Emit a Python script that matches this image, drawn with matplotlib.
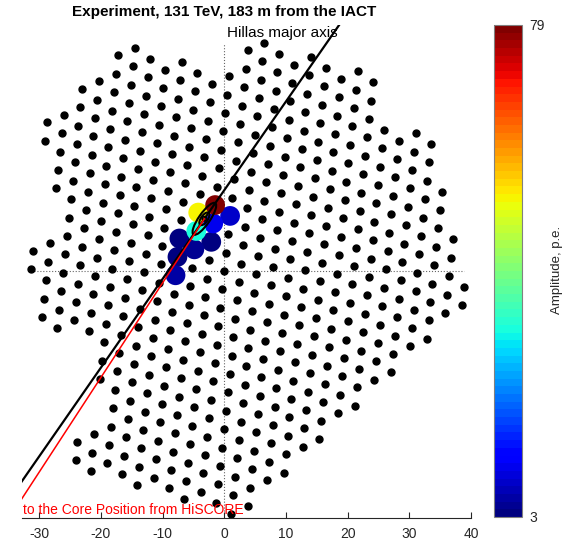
import numpy as np
import matplotlib
matplotlib.use('Agg')
import matplotlib.pyplot as plt
from matplotlib.patches import Circle, Ellipse
from matplotlib.path import Path
from matplotlib.colors import Normalize
from matplotlib.cm import ScalarMappable

plt.rcParams['font.family'] = ['Liberation Sans', 'DejaVu Sans']
plt.rcParams['axes.unicode_minus'] = False

# camera outline (boundary pixels, clockwise)
outline_x = [-14.47, -12.04, -6.9, -4.47, -2.04, 0.65, 3.79, 6.6, 8.9, 14.05, 16.4, 21.56,
             24.05, 23.7, 23.45, 25.9, 31.0, 33.45, 33.2, 32.9, 35.3, 34.96, 34.7, 37.07,
             36.8, 36.53, 38.96, 38.6, 35.8, 33.1, 32.85, 30.1, 27.34, 27.0, 24.3, 21.56,
             21.2, 18.5, 15.7, 15.46, 12.64, 9.72, 6.97, 4.2, 3.9, 1.2, -1.23, -3.78,
             -6.48, -8.96, -11.3, -14.0, -16.5, -19.06, -21.65, -24.0, -23.7, -20.95,
             -18.5, -18.25, -17.7, -20.0, -19.7, -19.45, -21.9, -24.5, -27.0, -29.5,
             -29.2, -28.95, -31.2, -30.96, -28.25, -25.5, -25.2, -24.9, -27.3, -27.0,
             -26.6, -29.06, -28.8, -26.1, -23.4, -23.0, -20.26, -17.18]
outline_y = [36.14, 34.4, 33.9, 32.2, 30.3, 31.65, 35.75, 36.95, 35.2, 34.7, 32.9, 32.35,
             30.6, 27.65, 24.6, 22.9, 22.3, 20.6, 17.6, 14.6, 12.8, 9.8, 6.86, 5.07,
             2.1, -0.78, -2.54, -5.5, -6.76, -8.05, -11.0, -12.3, -13.4, -16.5, -17.6, -18.9,
             -21.8, -23.1, -24.4, -27.3, -28.5, -32.6, -33.9, -35.2, -38.2, -39.4, -37.6, -35.9,
             -37.1, -35.3, -33.6, -34.7, -33.0, -31.2, -32.5, -30.7, -27.7, -26.5,
             -25.3, -22.4, -19.35, -17.5, -14.5, -11.6, -9.8, -8.05, -9.3, -7.6,
             -4.5, -1.5, 0.2, 3.2, 4.4, 5.7, 8.6, 11.6, 13.3, 16.4,
             19.4, 21.1, 24.1, 25.3, 26.6, 29.5, 30.73, 34.9]

# triggered pixels (hex lattice indices) and amplitudes, p.e.
hit_i = [-1, -2, 0, -1, -2, -3, -1, -2, -3, -3]
hit_j = [4, 4, 3, 3, 3, 3, 2, 2, 2, 1]
hit_amp = [79, 52, 8, 11, 32, 4, 3, 5, 4, 6]
amp_min, amp_max = 3, 79

# Hillas ellipse / axis and direction to the core
hillas_x, hillas_y = -3.23, 8.48
hillas_angle = 55.2
hillas_length, hillas_width = 3.1, 0.9
core_angle = 56.9

pitch = 3.0
rot = np.deg2rad(24.0)
u = pitch * np.array([np.cos(rot), np.sin(rot)])
v = pitch * np.array([np.cos(rot + np.pi / 3), np.sin(rot + np.pi / 3)])

ii, jj = np.meshgrid(np.arange(-25, 26), np.arange(-25, 26))
px = ii.ravel() * u[0] + jj.ravel() * v[0]
py = ii.ravel() * u[1] + jj.ravel() * v[1]
pts = np.column_stack([px, py])

poly = np.column_stack([outline_x, outline_y])
inside = Path(poly).contains_points(pts)
# also keep pixels lying on the boundary
a = poly
b = np.roll(poly, -1, axis=0)
near = np.zeros(len(pts), bool)
for k in range(len(a)):
    d = b[k] - a[k]
    t = np.clip(((pts - a[k]) @ d) / (d @ d), 0, 1)
    dist = np.hypot(*(pts - (a[k] + t[:, None] * d)).T)
    near |= dist < 1.0
keep = inside | near
px, py = px[keep], py[keep]

fig = plt.figure(figsize=(5.64, 5.44), dpi=100)
ax = fig.add_axes([22 / 564, 26.3 / 544, 449 / 564, 493.2 / 544])
ax.set_xlim(-32.8, 40)
ax.set_ylim(-40, 40)

ax.plot([0, 0], [py.min(), py.max()], ':', color='0.4', lw=0.8, zorder=1)
ax.plot([px.min(), px.max()], [0, 0], ':', color='0.4', lw=0.8, zorder=1)

ax.plot(px, py, 'o', ms=5, color='k', zorder=2)

cmap = plt.get_cmap('jet', 64)
norm = Normalize(amp_min, amp_max)
order = np.argsort(hit_amp)
for k in order:
    cx = hit_i[k] * u[0] + hit_j[k] * v[0]
    cy = hit_i[k] * u[1] + hit_j[k] * v[1]
    ax.add_patch(Circle((cx, cy), 1.6, fc=cmap(norm(hit_amp[k])), ec='none', zorder=3))

ax.add_patch(Ellipse((hillas_x, hillas_y), 2 * hillas_length, 2 * hillas_width,
                     angle=hillas_angle, fill=False, ec='k', lw=1.5, zorder=5))
ax.add_patch(Ellipse((hillas_x, hillas_y), 2.4, 1.1, angle=hillas_angle,
                     fill=False, ec='k', lw=1.5, zorder=5))
ax.add_patch(Circle((hillas_x, hillas_y), 0.35, fill=False, ec='k', lw=1.2, zorder=5))

t = np.array([-80, 80])
ax.plot(hillas_x + t * np.cos(np.deg2rad(hillas_angle)),
        hillas_y + t * np.sin(np.deg2rad(hillas_angle)), color='k', lw=1.6, zorder=6)
t = np.array([0, -80])
ax.plot(hillas_x + t * np.cos(np.deg2rad(core_angle)),
        hillas_y + t * np.sin(np.deg2rad(core_angle)), color='r', lw=1.1, zorder=6)

ax.text(0.4, 38.6, 'Hillas major axis', fontsize=11, ha='left', va='center', zorder=7)
ax.text(-32.7, -38.7, 'to the Core Position from HiSCORE', color='r', fontsize=10,
        ha='left', va='center', zorder=7)

ax.set_xticks([-30, -20, -10, 0, 10, 20, 30, 40])
ax.set_yticks([])
ax.tick_params(axis='x', direction='in', length=4, pad=7, labelsize=10, colors='#262626')
for s in ['left', 'top', 'right']:
    ax.spines[s].set_visible(False)
ax.spines['bottom'].set_color('#262626')
ax.spines['bottom'].set_linewidth(0.8)

fig.text(224 / 564, 0.978, 'Experiment, 131 TeV, 183 m from the IACT',
         ha='center', va='center', fontsize=11, fontweight='bold')

cax = fig.add_axes([494 / 564, 27 / 544, 28 / 564, 492 / 544])
sm = ScalarMappable(norm=norm, cmap=cmap)
cb = fig.colorbar(sm, cax=cax, ticks=[amp_min, amp_max])
cb.ax.tick_params(length=0, labelsize=10, colors='#262626', pad=5)
cb.outline.set_edgecolor('0.5')
cb.outline.set_linewidth(0.8)
fig.text(557 / 564, 0.504, 'Amplitude, p.e.', rotation=90, ha='center', va='center',
         fontsize=9.5, color='#262626')

fig.savefig('out.png', dpi=100)
